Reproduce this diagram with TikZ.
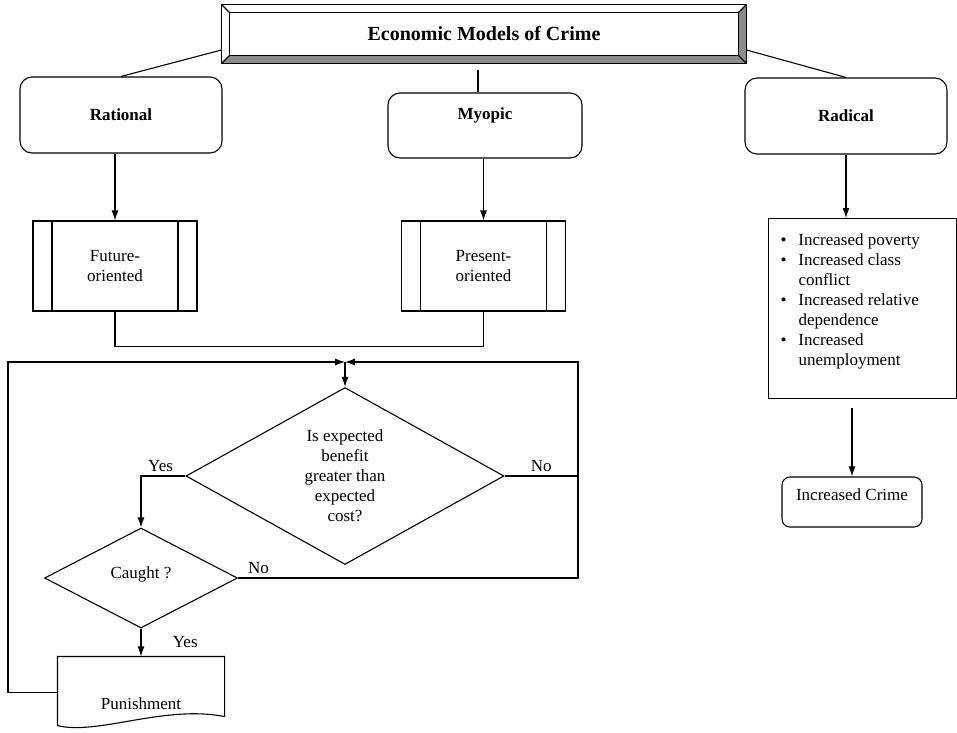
\documentclass[tikz,border=0pt]{standalone}
\usepackage{fontspec}
\setmainfont{Liberation Serif}
\usetikzlibrary{shapes.geometric,arrows.meta,calc}

\tikzset{
	box/.style={draw, rounded corners=12pt, minimum width=202pt, minimum height=76pt, inner sep=0pt},
	bold/.style={font=\fontsize{17}{20}\selectfont\bfseries},
	bevel/.style={fill=black!45},
	subproc/.style={draw, minimum width=164pt, minimum height=90pt, align=center, path picture={
		\draw ([xshift=19pt]path picture bounding box.north west) -- ([xshift=19pt]path picture bounding box.south west);
		\draw ([xshift=-19pt]path picture bounding box.north east) -- ([xshift=-19pt]path picture bounding box.south east);}},
	decide/.style={draw, diamond, shape aspect=1.8, inner sep=0pt, align=center},
}

\begin{document}
\begin{tikzpicture}[x=1pt, y=-1pt, line width=1.1pt, >={Latex[length=10pt,width=7pt]}, font=\fontsize{17}{20}\selectfont]
	\useasboundingbox (0,0) rectangle (957,732);

	% title with bevel
	\node[minimum width=524pt, minimum height=58pt, font=\fontsize{20}{24}\selectfont\bfseries] (title) at (484,34) {Economic Models of Crime};
	\coordinate (tnw) at ($(title.north west)+(8,8)$);
	\coordinate (tse) at ($(title.south east)+(-8,-8)$);
	\fill[bevel] (title.south west) -- (title.south east) -- (tse) -- (tse -| tnw) -- cycle;
	\fill[bevel] (title.north east) -- (title.south east) -- (tse) -- (tnw -| tse) -- cycle;
	\draw (tnw) rectangle (tse);
	\draw (title.north west) -- (tnw) (title.north east) -- (tnw -| tse) (title.south west) -- (tse -| tnw) (title.south east) -- (tse);
	\draw[line width=1.6pt] (title.north west) rectangle (title.south east);

	% the three models
	\node[box, bold] (rational) at (121,115) {Rational};
	\node[box, bold, minimum width=194pt, minimum height=65pt, text height=12pt, text depth=25pt] (myopic) at (485,125.5) {Myopic};
	\node[box, bold] (radical) at (846,116) {Radical};

	\coordinate (mtop) at (478,70);
	\draw ([yshift=-16pt]title.west) -- (rational.north);
	\draw ([yshift=-16pt]title.east) -- (radical.north);
	\draw (mtop) -- (mtop |- myopic.north);

	\node[subproc] (future) at (115,266) {Future-\\oriented};
	\node[subproc] (present) at (483.5,266) {Present-\\oriented};

	\draw[->] (rational.south -| future.north) -- (future.north);
	\draw[->] (myopic.south -| present.north) -- (present.north);
	\draw (future.south) -- ++(0,35) -| (present.south);

	% radical branch
	\node[draw, minimum width=188pt, minimum height=180pt, anchor=north west] (causes) at (768,218) {};
	\node[anchor=north west, inner sep=0pt] (causelist) at (780,231) {\begin{tabular}{@{}l@{\hspace{12pt}}l@{}}
		\textbullet & Increased poverty\\
		\textbullet & Increased class\\
		& conflict\\
		\textbullet & Increased relative\\
		& dependence\\
		\textbullet & Increased\\
		& unemployment
	\end{tabular}};
	\draw[->] (radical.south) -- (radical.south |- causes.north);

	\node[box, rounded corners=8pt, minimum width=140pt, minimum height=50pt, text height=12pt, text depth=16pt] (crime) at (852,502) {Increased Crime};
	\coordinate (cstart) at (852,408);
	\draw[->] (cstart) -- (crime.north);

	% decision loop
	\node[decide, minimum width=318pt, minimum height=177pt] (decision) at (345,476) {Is expected\\benefit\\greater than\\expected\\cost?};
	\node[decide, minimum width=193pt, minimum height=100pt, text depth=10pt] (caught) at (141,578) {Caught ?};
	\node[minimum width=166pt, minimum height=59pt, inner sep=0pt, text height=45pt, text depth=0pt] (punish) at (141,686.5) {Punishment};
	\draw (punish.south east) -- (punish.north east) -- (punish.north west) -- ($(punish.south west)+(0,9)$)
		.. controls +(40,10) and +(-60,-12) .. (punish.south east);

	\coordinate (merge) at (345,362);
	\coordinate (rcorner) at (578,362);
	\coordinate (lcorner) at (8,362);

	\draw[->] (merge) -- (decision.north);
	\draw[->] (decision.west) -| node[pos=0.28, above] {Yes} (caught.north);
	\draw (decision.east) -- node[above] {No} (decision.east -| rcorner);
	\draw[->] (caught.east) -| node[pos=0.03, above] {No} (rcorner) -- (merge);
	\draw[->] (caught.south) -- node[right=28pt] {Yes} (punish.north);
	\draw[->] ([yshift=-6pt]punish.west) -| (lcorner) -- (merge);
\end{tikzpicture}
\end{document}
